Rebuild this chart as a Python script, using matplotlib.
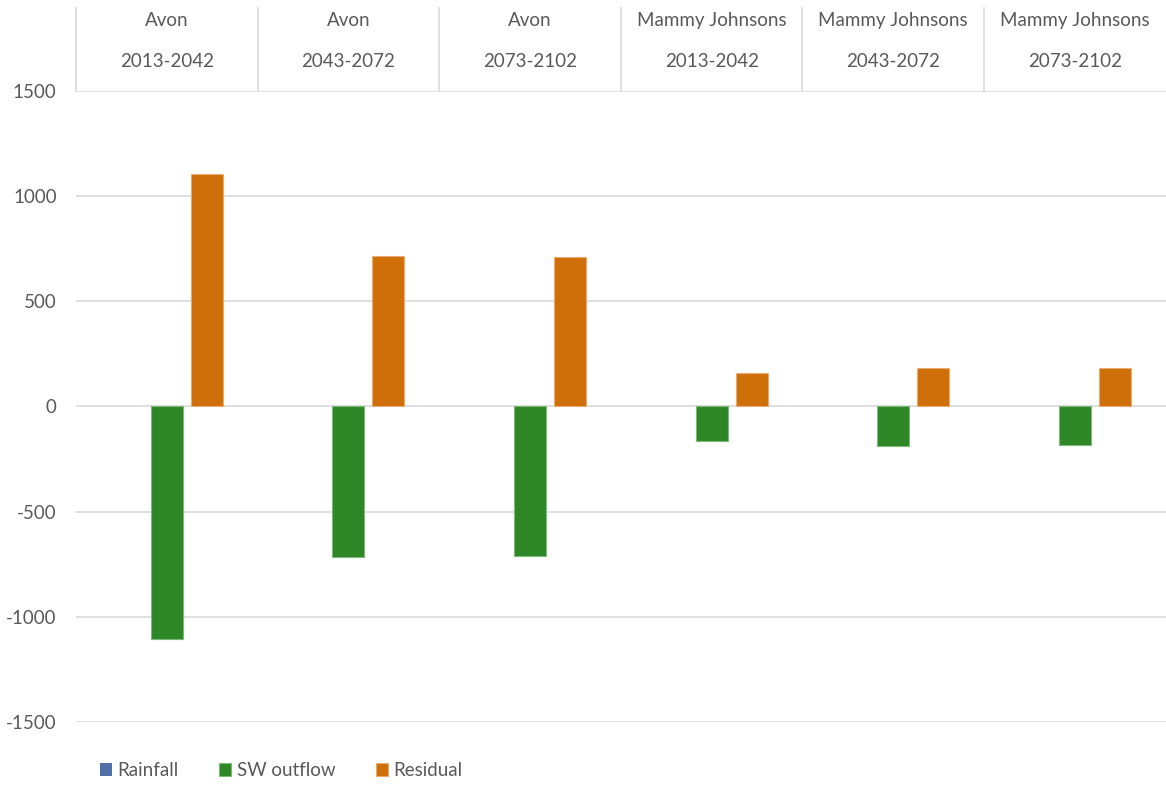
import matplotlib.pyplot as plt
import numpy as np

plt.rcParams['font.family'] = ['Lato', 'DejaVu Sans']
plt.rcParams['axes.unicode_minus'] = False

# Data
sites = ['Avon', 'Avon', 'Avon', 'Mammy Johnsons', 'Mammy Johnsons', 'Mammy Johnsons']
periods = ['2013-2042', '2043-2072', '2073-2102', '2013-2042', '2043-2072', '2073-2102']
rainfall = [0, 0, 0, 0, 0, 0]
sw_outflow = [-1107, -717, -711, -164, -186, -185]
residual = [1105, 716, 710, 160, 184, 182]

grey_txt = '#595959'
grid_col = '#d9d9d9'
fs = 13.5

fig = plt.figure(figsize=(11.66, 7.85), dpi=100)
ax = fig.add_axes([0.0652, 0.0803, 0.9345, 0.8038])

x = np.arange(len(sites))
w = 0.176
step = 0.22
ax.bar(x - step, rainfall, w, color='#4f6fa6', linewidth=0, label='Rainfall')
ax.bar(x, sw_outflow, w, color='#2e8726', edgecolor='#7fb87a', linewidth=0.8, label='SW outflow')
ax.bar(x + step, residual, w, color='#cf6f0a', edgecolor='#e8ab70', linewidth=0.8, label='Residual')

ax.set_xlim(-0.5, len(sites) - 0.5)
ax.set_ylim(-1500, 1500)
ax.set_yticks(np.arange(-1500, 1501, 500))
ax.yaxis.grid(True, color=grid_col, linewidth=1.2)
ax.set_axisbelow(True)
ax.set_xticks([])
ax.tick_params(axis='y', length=0, pad=14, labelsize=fs, labelcolor=grey_txt)
for s in ax.spines.values():
    s.set_visible(False)

# category header at the top (two-level labels)
trans = ax.get_xaxis_transform()
for i in range(len(sites)):
    ax.text(i, 1.111, sites[i], transform=trans, ha='center', va='center',
            fontsize=fs, color=grey_txt)
    ax.text(i, 1.046, periods[i], transform=trans, ha='center', va='center',
            fontsize=fs, color=grey_txt)
for i in range(len(sites)):
    ax.plot([i - 0.5, i - 0.5], [1.0, 1.131], transform=trans, color=grid_col,
            linewidth=1.2, clip_on=False)

fig.legend(loc='lower left', bbox_to_anchor=(0.071, -0.014), ncol=3, frameon=False,
           fontsize=fs, handlelength=0.65, handleheight=0.65, handletextpad=0.3,
           columnspacing=2.15, labelcolor=grey_txt)

fig.savefig('out.png', dpi=100)
